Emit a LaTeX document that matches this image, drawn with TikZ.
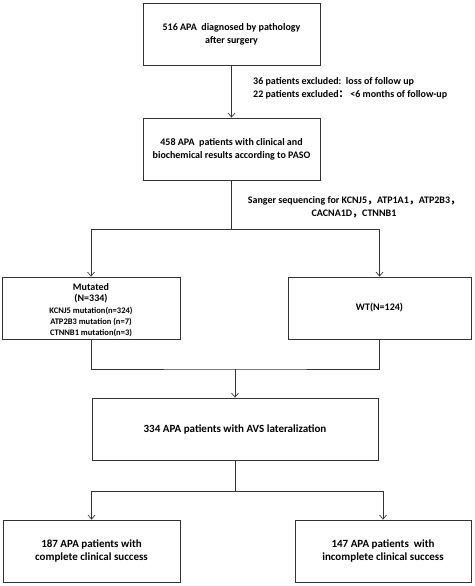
\documentclass[tikz,border=0pt]{standalone}
\usepackage{fontspec}
\setmainfont{Carlito}
\newfontfamily\cjk{Noto Sans CJK SC}
\newcommand{\zc}{{\cjk\bfseries ，}}
\usetikzlibrary{arrows.meta}
\begin{document}
\begin{tikzpicture}[x=1pt,y=-1pt,
  box/.style={draw=black!80,line width=0.8pt,align=center,inner sep=0pt,font=\bfseries\fontsize{10}{13}\selectfont},
  bigbox/.style={box,font=\bfseries\fontsize{11}{12.8}\selectfont},
  conn/.style={draw=black!80,line width=0.8pt},
  arr/.style={conn,-{Straight Barb[length=4pt,width=7pt,line width=0.7pt]}},
  note/.style={font=\bfseries\fontsize{10}{12.5}\selectfont,inner sep=0pt},
  mline/.style={anchor=base,inner sep=0pt,font=\bfseries\fontsize{10}{12}\selectfont},
  sline/.style={anchor=base,inner sep=0pt,font=\bfseries\fontsize{8.5}{11}\selectfont}]
\useasboundingbox (0,0) rectangle (474,586);
\node[box,minimum width=177pt,minimum height=62pt] (b1) at (231.5,34) {516 APA\ \ diagnosed by pathology\\after surgery};
\node[box,minimum width=177pt,minimum height=62pt] (b2) at (231.5,149) {458 APA\ \ patients with clinical and\\biochemical results according to PASO};
\node[box,minimum width=178pt,minimum height=62pt] (mut) at (91,308) {};
\node[mline] (m1) at (91,290) {Mutated};
\node[mline] (m2) at (91,301.5) {(N=334)};
\node[sline] (m3) at (91,313) {KCNJ5 mutation(n=324)};
\node[sline] (m4) at (91,324) {ATP2B3 mutation (n=7)};
\node[sline] (m5) at (91,335) {CTNNB1 mutation(n=3)};
\node[box,minimum width=183pt,minimum height=62pt] (wt) at (379.5,308) {WT(N=124)};
\node[bigbox,minimum width=286pt,minimum height=62pt] (b3) at (235,429) {334 APA patients with AVS lateralization};
\node[bigbox,minimum width=177pt,minimum height=62pt] (b4) at (91.5,551) {187 APA patients with\\complete clinical success};
\node[bigbox,minimum width=176pt,minimum height=62pt] (b5) at (383,551) {147 APA patients\ \ with\\incomplete clinical success};
\node[note,anchor=west,align=left] (t1) at (253,88.5) {36 patients excluded:\ \ loss of follow up\\22 patients excluded{\cjk\bfseries ：}\,<6 months of follow-up};
\node[note,align=center] (t2) at (354,207.5) {Sanger sequencing for KCNJ5\zc ATP1A1\zc ATP2B3\zc\\CACNA1D\zc CTNNB1};
\coordinate (j1) at (231.5,229);
\coordinate (j2) at (235,369);
\coordinate (j3) at (235,491);
\draw[arr] (b1.south) -- (b2.north);
\draw[conn] (b2.south) -- (j1);
\draw[arr] (j1) -| (mut.north);
\draw[arr] (j1) -| (wt.north);
\draw[conn] (mut.south) |- (j2) -| (wt.south);
\draw[arr] (j2) -- (b3.north);
\draw[conn] (b3.south) -- (j3);
\draw[arr] (j3) -| (b4.north);
\draw[arr] (j3) -| (b5.north);
\end{tikzpicture}
\end{document}
